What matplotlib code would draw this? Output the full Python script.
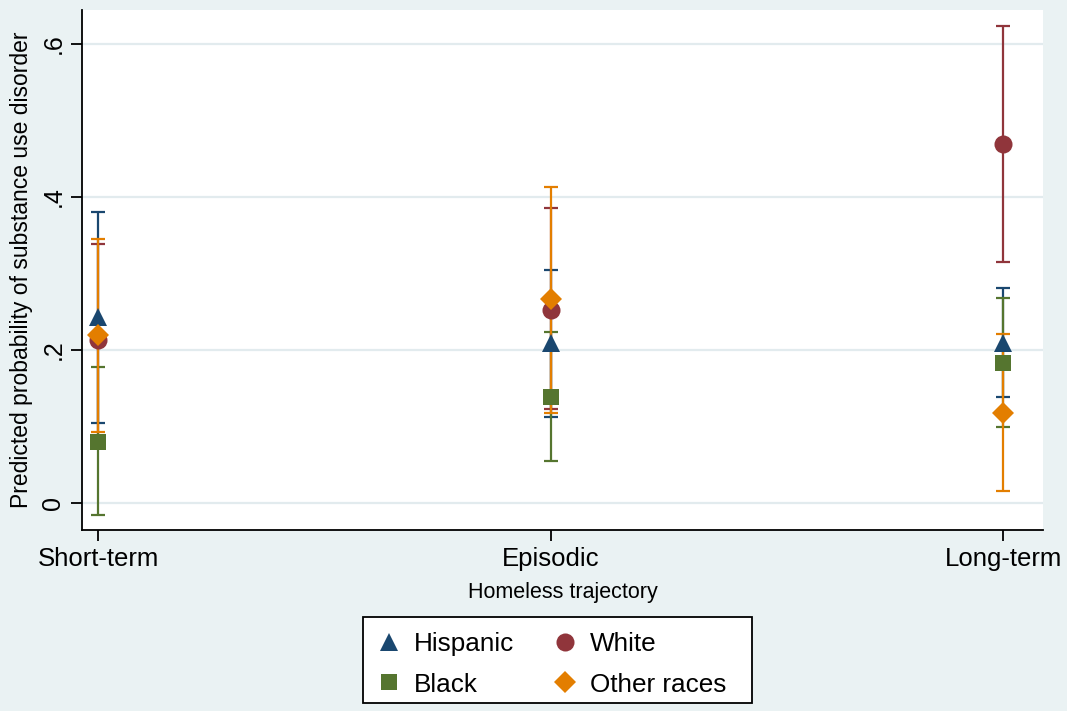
import matplotlib
matplotlib.use("Agg")
import matplotlib.pyplot as plt
from matplotlib.patches import Rectangle
import numpy as np

plt.rcParams['font.family'] = ['Liberation Sans', 'DejaVu Sans']

# Homeless trajectory categories
categories = ["Short-term", "Episodic", "Long-term"]

# Predicted probabilities with 95% confidence limits, by race
hispanic = [0.243, 0.209, 0.209]
hispanic_lo = [0.104, 0.112, 0.138]
hispanic_hi = [0.381, 0.305, 0.281]

white = [0.213, 0.252, 0.469]
white_lo = [0.088, 0.123, 0.315]
white_hi = [0.338, 0.385, 0.623]

black = [0.080, 0.139, 0.183]
black_lo = [-0.016, 0.055, 0.099]
black_hi = [0.178, 0.223, 0.268]

other = [0.219, 0.267, 0.118]
other_lo = [0.093, 0.117, 0.016]
other_hi = [0.345, 0.413, 0.221]

y_ticks = [0, 0.2, 0.4, 0.6]
y_tick_labels = ["0", ".2", ".4", ".6"]

BG = "#EAF2F3"
GRID = "#E2EBEE"
series = [
    ("Hispanic", hispanic, hispanic_lo, hispanic_hi, "#1A476F", "^", 13.5),
    ("White", white, white_lo, white_hi, "#90353B", "o", 13.0),
    ("Black", black, black_lo, black_hi, "#55752F", "s", 12.0),
    ("Other races", other, other_lo, other_hi, "#E37E00", "D", 11.0),
]

W, H = 1067, 711
fig = plt.figure(figsize=(W / 100, H / 100), dpi=100, facecolor=BG)
ax = fig.add_axes([82 / W, 1 - 530 / H, (1043 - 82) / W, (530 - 10) / H])
ax.set_facecolor("white")

x = np.arange(1, len(categories) + 1)

# confidence intervals first, then the point estimates on top
for name, est, lo, hi, col, mk, ms in series:
    est = np.array(est)
    yerr = np.vstack([est - np.array(lo), np.array(hi) - est])
    ax.errorbar(x, est, yerr=yerr, fmt="none", ecolor=col, elinewidth=1.6,
                capsize=5.3, capthick=1.6, zorder=2)

handles = {}
for name, est, lo, hi, col, mk, ms in series:
    h, = ax.plot(x, est, linestyle="none", marker=mk, markersize=ms,
                 color=col, markeredgewidth=0, zorder=3, label=name)
    handles[name] = h

ax.set_xlim(0.964, 3.088)
ax.set_ylim(-0.0355, 0.6445)
ax.set_xticks(x)
ax.set_xticklabels(categories, fontsize=18.5)
ax.set_yticks(y_ticks)
ax.set_yticklabels(y_tick_labels, fontsize=18, rotation=90, va="center")
ax.yaxis.grid(True, color=GRID, linewidth=1.6, zorder=0)
ax.set_axisbelow(True)

for s in ["top", "right"]:
    ax.spines[s].set_visible(False)
for s in ["left", "bottom"]:
    ax.spines[s].set_linewidth(1.3)
    ax.spines[s].set_color("black")
ax.tick_params(axis="both", length=8, width=1.3, direction="out", pad=4)

ax.set_ylabel("Predicted probability of substance use disorder", fontsize=16.5, labelpad=6)
ax.set_xlabel("Homeless trajectory", fontsize=15.5, labelpad=8)

# legend box drawn as a separate frame, entries placed inside it
fig.patches.append(Rectangle((363 / W, 1 - 703 / H), (752 - 363) / W, (703 - 617) / H,
                             transform=fig.transFigure, facecolor="white",
                             edgecolor="black", linewidth=1.3, zorder=1))
order = ["Hispanic", "Black", "White", "Other races"]
leg = fig.legend([handles[n] for n in order], order, loc="center",
                 bbox_to_anchor=(551 / W, 1 - 664.5 / H), ncol=2,
                 fontsize=18.8, frameon=False,
                 handlelength=1.0, handletextpad=0.46, columnspacing=1.45,
                 labelspacing=0.62, borderpad=0, borderaxespad=0)
leg.set_zorder(2)

fig.savefig("out.png", dpi=100, facecolor=BG)
